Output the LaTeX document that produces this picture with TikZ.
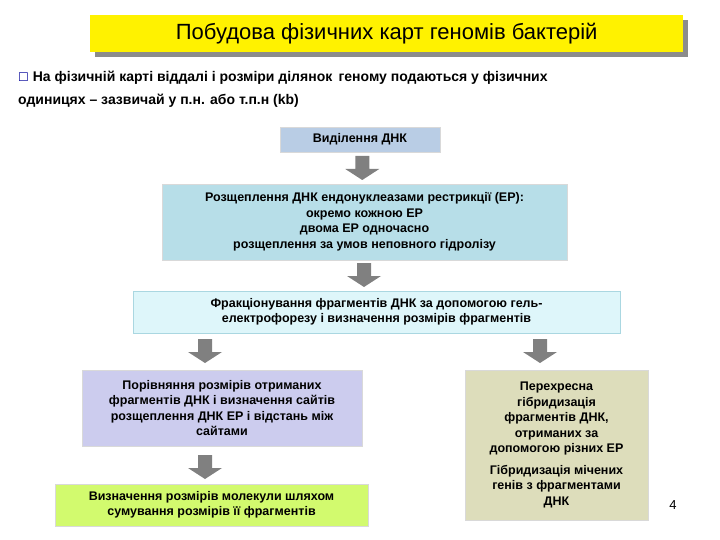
\documentclass[tikz,border=0pt]{standalone}
\usepackage{fontspec}
\setmainfont{Liberation Sans}
\usetikzlibrary{calc}
\begin{document}
\begin{tikzpicture}[x=1pt,y=-1pt,
  bx/.style={draw=white!85!black,line width=0.6pt,align=center,font=\bfseries\fontsize{12.5}{15.5}\selectfont,inner sep=2pt},
  barr/.style={fill=black!50,draw=none}]
\newcommand{\blkarrow}[1]{\fill[barr] ($(#1)+(-7,-12)$) -- ($(#1)+(7,-12)$) -- ($(#1)+(7,1)$) -- ($(#1)+(17,1)$) -- ($(#1)+(0,12)$) -- ($(#1)+(-17,1)$) -- ($(#1)+(-7,1)$) -- cycle;}
\useasboundingbox (0,0) rectangle (720,540);
\fill[black!45] (95,20) rectangle (688,57);
\node[fill=yellow,minimum width=593pt,minimum height=37pt,anchor=north west,inner sep=0pt,font=\fontsize{22}{26}\selectfont] (title) at (90,15) {Побудова фізичних карт геномів бактерій};
\node[anchor=west,font=\bfseries\fontsize{14}{16}\selectfont,inner sep=0pt] (b1) at (18,78) {\textcolor{blue!60!black}{\normalfont\fontspec{DejaVu Sans}\fontsize{12}{14}\selectfont ☐} На фізичній карті віддалі і розміри ділянок\, геному подаються у фізичних};
\node[anchor=west,font=\bfseries\fontsize{14}{16}\selectfont,inner sep=0pt] (b2) at (18,101) {одиницях -- зазвичай у п.н. або т.п.н (kb)};
\node[bx,fill={rgb,255:red,185;green,205;blue,229},minimum width=160pt,minimum height=25pt] (n1) at (360,139.5) {Виділення ДНК};
\node[bx,fill={rgb,255:red,183;green,222;blue,232},minimum width=405pt,minimum height=76pt] (n2) at (364.5,222) {Розщеплення ДНК ендонуклеазами рестрикції (ЕР):\\окремо кожною ЕР\\двома ЕР одночасно\\розщеплення за умов неповного гідролізу};
\node[bx,fill={rgb,255:red,222;green,246;blue,250},draw={rgb,255:red,170;green,215;blue,225},minimum width=487pt,minimum height=42pt] (n3) at (376.5,312) {Фракціонування фрагментів ДНК за допомогою гель-\\електрофорезу і визначення розмірів фрагментів};
\node[bx,fill={rgb,255:red,204;green,204;blue,238},minimum width=280pt,minimum height=76pt] (n4) at (222,408) {Порівняння розмірів отриманих\\фрагментів ДНК і визначення сайтів\\розщеплення ДНК ЕР і відстань між\\сайтами};
\node[bx,fill={rgb,255:red,221;green,221;blue,187},minimum width=183pt,minimum height=150pt] (n5) at (556.5,445) {Перехресна\\гібридизація\\фрагментів ДНК,\\отриманих за\\допомогою різних ЕР\\[6pt]Гібридизація мічених\\генів з фрагментами\\ДНК};
\node[bx,fill={rgb,255:red,210;green,250;blue,110},minimum width=313pt,minimum height=42pt] (n6) at (211.5,505) {Визначення розмірів молекули шляхом\\сумування розмірів її фрагментів};
\node[font=\fontsize{13}{15}\selectfont] (pg) at (673,505) {4};
\coordinate (a1) at ($(n1.south)!0.5!(n2.north)$);
\coordinate (a2) at (364,275);
\coordinate (a3) at (205,351);
\coordinate (a4) at (540,351);
\coordinate (a5) at (205,467);
\blkarrow{a1}\blkarrow{a2}\blkarrow{a3}\blkarrow{a4}\blkarrow{a5}
\end{tikzpicture}
\end{document}
